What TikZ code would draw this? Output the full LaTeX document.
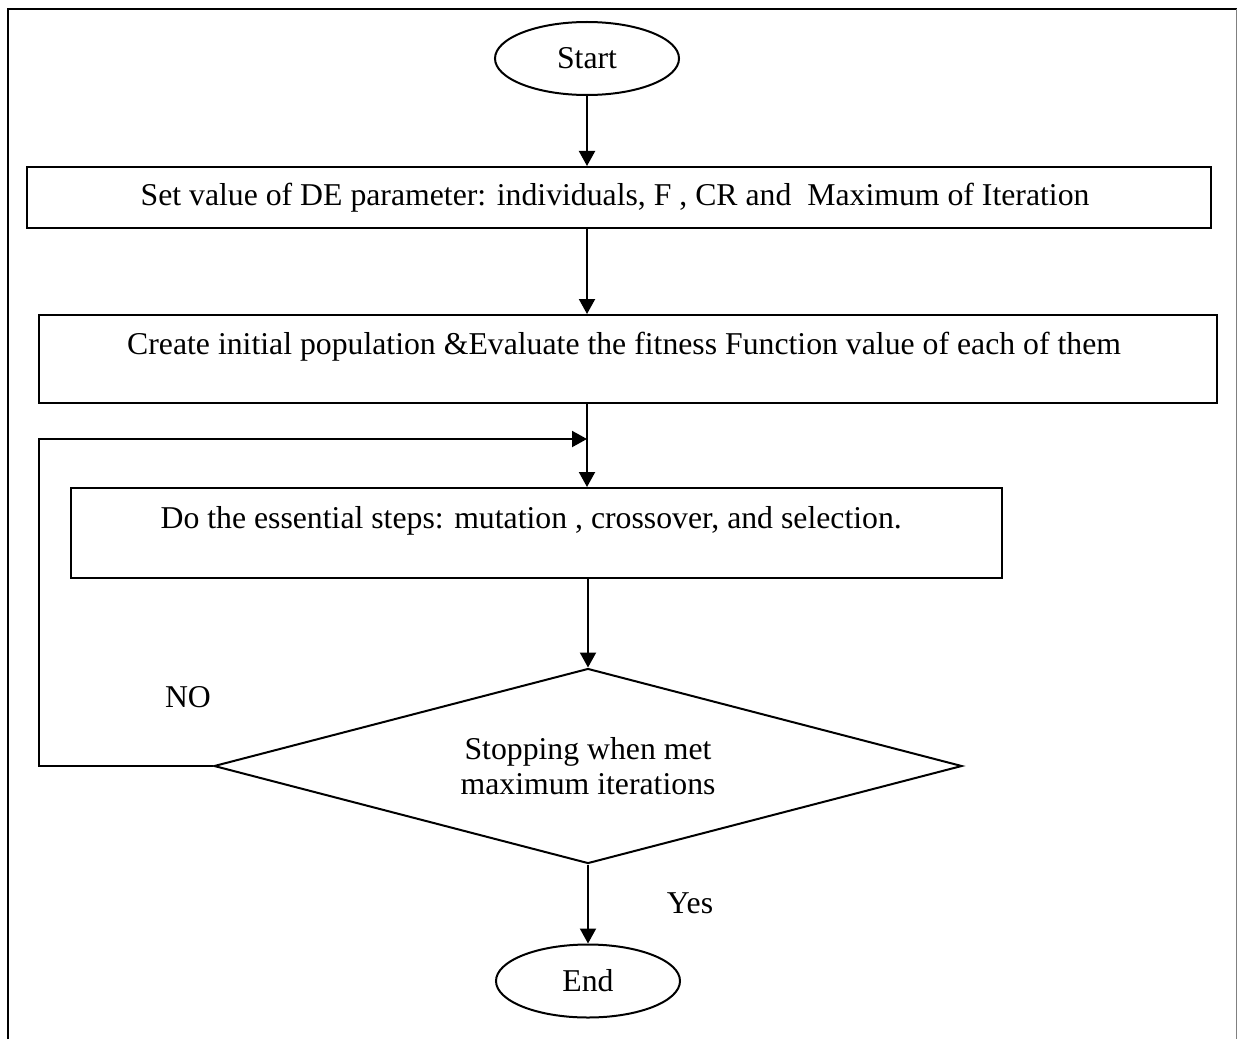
\documentclass[tikz,border=0pt]{standalone}
\usepackage{fontspec}
\setmainfont{Liberation Serif}
\usetikzlibrary{shapes.geometric, arrows.meta, calc}
\tikzset{
    % Base styles
    basenode/.style={
        draw, line width=0.8pt, align=center,
        font=\fontsize{12.7}{14}\selectfont, inner sep=0pt
    },
    % Specific node types
    terminal/.style={basenode, ellipse, minimum width=73.6pt, minimum height=29.2pt},
    processnode/.style={basenode, rectangle},
    raisedtext/.style={text height=8.7pt, text depth=12pt},
    % Decision diamond
    decision/.style={
        basenode, diamond, aspect=3.84,
        minimum width=299.2pt, minimum height=78pt
    },
    % Arrows
    myarrow/.style={-{Triangle[length=6pt, width=6.4pt]}, line width=0.8pt},
    % Labels
    steplabel/.style={font=\fontsize{12.7}{14}\selectfont},
    % Page frame
    framebox/.style={line width=1pt},
}

\begin{document}
\begin{tikzpicture}[x=0.4pt, y=-0.4pt]

\useasboundingbox (0,0) rectangle (1238,1039);

% Page frame
\draw[framebox] (8,1039) -- (8,9) -- (1236.5,9);
\draw[line width=0.5pt, black!50] (1236.5,9) -- (1236.5,1039);

% Start
\node (start) [terminal] at (587,58.5) {Start};

% Parameters
\node (params) [processnode, minimum width=473.6pt, minimum height=24.4pt] at (619,197.5) {
    Set value of DE parameter: individuals, F , CR and\ \ Maximum of Iteration
};

% Initial population
\node (init) [processnode, raisedtext, minimum width=471.2pt, minimum height=35.2pt] at (628,359) {
    Create initial population \&Evaluate the fitness Function value of each of them
};

% DE steps
\node (steps) [processnode, raisedtext, minimum width=372.4pt, minimum height=36pt] at (536.5,533) {
    Do the essential steps: mutation , crossover, and selection.
};

% Stopping test
\node (stop) [decision] at (588,766) {
    Stopping when met\\
    maximum iterations
};

% End
\node (finish) [terminal] at (588,981) {End};

% Loop entry point
\coordinate (merge) at (start |- 0,439);

% Arrows
\draw[myarrow] (start) -- (start |- params.north);
\draw[myarrow] (start |- params.south) -- (start |- init.north);
\draw[myarrow] (start |- init.south) -- (start |- steps.north);
\draw[myarrow] (stop.west) -- ++(-174,0) |- (merge);
\draw[myarrow] (steps.south -| stop) -- (stop);
\draw[myarrow] (stop) -- (finish);

% Branch labels
\node (nolabel) [steplabel] at (188,697) {NO};
\node (yeslabel) [steplabel] at (690,903) {Yes};

\end{tikzpicture}
\end{document}
